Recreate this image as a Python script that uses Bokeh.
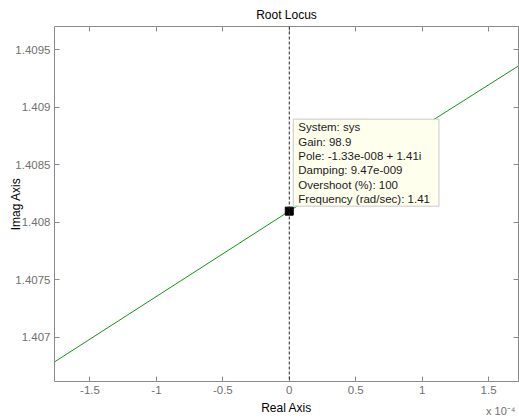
from bokeh.plotting import figure
from bokeh.models import Range1d, FixedTicker, LinearAxis, Span, Label, Title, ColumnDataSource
from bokeh.embed import file_html
from bokeh.resources import INLINE

# Root locus branch (real part in units of 1e-4, imaginary part)
locus_re = [-1.77, -0.000133, 1.73]
locus_im = [1.406785, 1.408098, 1.409364]

# Selected pole
pole_re = [-0.000133]
pole_im = [1.408098]

x_ticks = [-1.5, -1.0, -0.5, 0.0, 0.5, 1.0, 1.5]
x_tick_labels = ["-1.5", "-1", "-0.5", "0", "0.5", "1", "1.5"]
y_ticks = [1.407, 1.4075, 1.408, 1.4085, 1.409, 1.4095]
y_tick_labels = ["1.407", "1.4075", "1.408", "1.4085", "1.409", "1.4095"]

tip_lines = [
    "System: sys",
    "Gain: 98.9",
    "Pole: -1.33e-008 + 1.41i",
    "Damping: 9.47e-009",
    "Overshoot (%): 100",
    "Frequency (rad/sec): 1.41",
]

FONT = "Liberation Sans"
AX_COL = "#8a8a8a"
TICK_COL = "#707070"

p = figure(width=519, height=418, output_backend="svg", toolbar_location=None,
           x_range=Range1d(-1.767, 1.725), y_range=Range1d(1.406617, 1.409703),
           min_border_left=54, min_border_right=1, min_border_top=26, min_border_bottom=37,
           x_axis_location=None, y_axis_location=None)
p.outline_line_color = None
p.background_fill_color = "white"
p.border_fill_color = "white"
p.xgrid.visible = False
p.ygrid.visible = False

p.title.text = "Root Locus"
p.title.align = "center"
p.title.vertical_align = "top"
p.title.standoff = 6
p.title.text_font = FONT
p.title.text_font_size = "12px"
p.title.text_font_style = "normal"
p.title.text_color = "black"


def style_axis(ax, ticks, labels, show_labels):
    ax.ticker = FixedTicker(ticks=ticks)
    ax.major_tick_in = 5
    ax.major_tick_out = 0
    ax.minor_tick_in = 0
    ax.minor_tick_out = 0
    ax.axis_line_color = AX_COL
    ax.major_tick_line_color = AX_COL
    ax.major_label_text_font = FONT
    ax.major_label_text_color = TICK_COL
    ax.axis_label_text_font = FONT
    ax.axis_label_text_font_size = "12px"
    ax.axis_label_text_font_style = "normal"
    ax.axis_label_text_color = "black"
    if show_labels:
        ax.major_label_overrides = {t: l for t, l in zip(ticks, labels)}
        ax.major_label_text_font_size = "11.5px"
        ax.major_label_standoff = 4
    else:
        ax.major_label_overrides = {t: "" for t in ticks}
        ax.major_label_text_font_size = "0px"
        ax.major_label_standoff = 0


ax_b = LinearAxis(axis_label="Real Axis")
style_axis(ax_b, x_ticks, x_tick_labels, True)
ax_b.axis_label_standoff = 4
p.add_layout(ax_b, "below")
ax_t = LinearAxis()
style_axis(ax_t, x_ticks, x_tick_labels, False)
p.add_layout(ax_t, "above")
ax_l = LinearAxis(axis_label="Imag Axis")
style_axis(ax_l, y_ticks, y_tick_labels, True)
ax_l.axis_label_standoff = -11
p.add_layout(ax_l, "left")
ax_r = LinearAxis()
style_axis(ax_r, y_ticks, y_tick_labels, False)
p.add_layout(ax_r, "right")

# exponent note for the real axis (empty second line lets it sit beside "Real Axis")
p.add_layout(Title(text="x 10\u207b\u2074\n", align="right", offset=3, vertical_align="top",
                   standoff=-25, text_font=FONT, text_font_size="11px",
                   text_font_style="normal", text_color=TICK_COL), "below")

# dashed imaginary axis line
p.add_layout(Span(location=0, dimension="height", line_color="#222222", line_width=1, line_dash="3 2"))

src = ColumnDataSource(dict(x=locus_re, y=locus_im))
p.line("x", "y", source=src, line_color="#139413", line_width=1)
p.scatter(pole_re, pole_im, marker="square", size=8, color="black")

# data tip
tip = Label(x=pole_re[0], y=pole_im[0], x_offset=4, y_offset=5, text="\n".join(tip_lines),
            text_font=FONT, text_font_size="11.5px", text_color="#1a1a1a", text_line_height=1.2,
            anchor="bottom_left", text_align="left", text_baseline="bottom",
            background_fill_color="#ffffee", border_line_color="#c8c8c8",
            padding=dict(left=5, right=9, top=2, bottom=1))
p.add_layout(tip)

open("out.html", "w").write(file_html(p, INLINE))
